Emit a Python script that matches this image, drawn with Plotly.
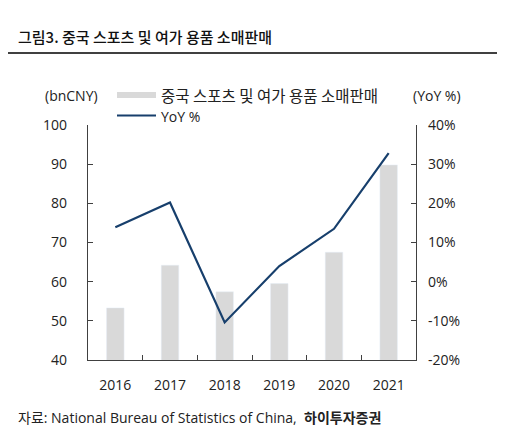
import plotly.graph_objects as go

years = ["2016", "2017", "2018", "2019", "2020", "2021"]
sales_bn_cny = [53.3, 64.2, 57.4, 59.5, 67.5, 89.8]
yoy_pct = [0.139, 0.202, -0.104, 0.040, 0.135, 0.328]
yoy_tick_vals = [-0.2, -0.1, 0.0, 0.1, 0.2, 0.3, 0.4]
yoy_tick_text = ["-20%", "-10%", "0%", "10%", "20%", "30%", "40%"]

bar_name = "중국 스포츠 및 여가 용품 소매판매"
line_name = "YoY %"

# page body adds an 8px offset
OFF = 8
W, H = 508 - OFF, 446 - OFF
L, R, T, B = 88, 416, 125, 360  # plot area in reference pixels

def px(x):
    return (x - L) / (R - L)

def py(y):
    return (B - y) / (B - T)

KR = "Noto Sans CJK KR"
NUM = "Open Sans, Noto Sans CJK KR"
BAR_C = "#D9D9D9"
LINE_C = "#173F6C"
AX_C = "#404040"

fig = go.Figure()
fig.add_trace(go.Bar(x=years, y=sales_bn_cny, name=bar_name, marker_color=BAR_C,
                     width=0.32, yaxis="y"))
fig.add_trace(go.Scatter(x=years, y=yoy_pct, name=line_name, mode="lines",
                         line=dict(color=LINE_C, width=2.2), yaxis="y2"))

axis_common = dict(showline=True, linecolor=AX_C, linewidth=1.3, ticks="inside",
                   ticklen=5, tickcolor=AX_C, showgrid=False, zeroline=False,
                   tickfont=dict(family=NUM, size=14, color="#222"))

fig.update_layout(
    width=W, height=H,
    margin=dict(l=L - OFF, r=W - (R - OFF), t=T - OFF, b=H - (B - OFF), pad=0),
    paper_bgcolor="white", plot_bgcolor="white",
    showlegend=False,
    xaxis=dict(**axis_common, tickson="boundaries", ticklabelstandoff=12),
    yaxis=dict(**axis_common, range=[40, 100], dtick=10, ticklabelstandoff=17),
    yaxis2=dict(**axis_common, range=[-0.2, 0.4], tickmode="array",
                tickvals=yoy_tick_vals, ticktext=yoy_tick_text,
                overlaying="y", side="right", ticklabelstandoff=8),
)

shapes = [
    dict(type="line", xref="paper", yref="paper", x0=px(7), x1=px(497),
         y0=py(53), y1=py(53), line=dict(color="black", width=1.3)),
    dict(type="rect", xref="paper", yref="paper", x0=px(117), x1=px(156),
         y0=py(98), y1=py(92), fillcolor=BAR_C, line=dict(width=0)),
    dict(type="line", xref="paper", yref="paper", x0=px(117), x1=px(156),
         y0=py(115.5), y1=py(115.5), line=dict(color=LINE_C, width=2.2)),
]
fig.update_layout(shapes=shapes)

def ann(text, x, y, size=14, xanchor="left", family=KR, color="#222", weight=None):
    f = dict(family=family, size=size, color=color)
    if weight:
        f["weight"] = weight
    return dict(text=text, xref="paper", yref="paper", x=px(x), y=py(y),
                xanchor=xanchor, yanchor="middle", showarrow=False, font=f,
                borderpad=0)

fig.update_layout(annotations=[
    ann("그림3. 중국 스포츠 및 여가 용품 소매판매", 17, 37, size=15, color="#111", weight=500),
    ann("(bnCNY)", 44, 95, size=14, family=NUM),
    ann("(YoY %)", 412, 95, size=14, family=NUM),
    ann(bar_name, 160, 94.5, size=15.5),
    ann(line_name, 160, 116, size=14, family=NUM),
    ann("자료: National Bureau of Statistics of China,  <b>하이투자증권</b>", 17, 417, size=14,
        family="Open Sans, Noto Sans CJK KR"),
])

fig.write_html("out.html")
